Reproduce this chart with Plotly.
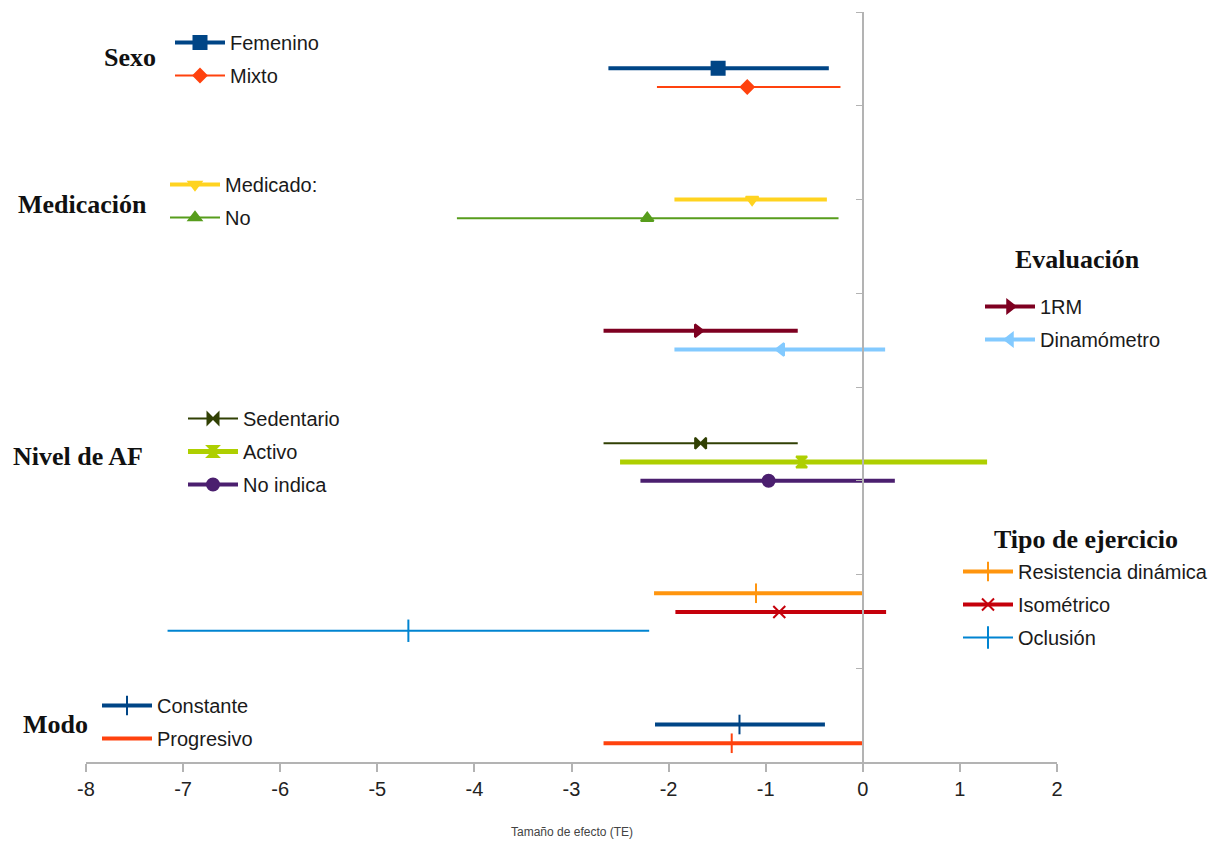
import plotly.graph_objects as go

# ---- data ----
series = ["Femenino", "Mixto", "Medicado:", "No", "1RM", "Dinamómetro",
          "Sedentario", "Activo", "No indica",
          "Resistencia dinámica", "Isométrico", "Oclusión",
          "Constante", "Progresivo"]
groups = ["Sexo", "Sexo", "Medicación", "Medicación", "Evaluación", "Evaluación",
          "Nivel de AF", "Nivel de AF", "Nivel de AF",
          "Tipo de ejercicio", "Tipo de ejercicio", "Tipo de ejercicio",
          "Modo", "Modo"]
effect = [-1.49, -1.19, -1.14, -2.22, -1.70, -0.84, -1.67, -0.63, -0.97,
          -1.10, -0.86, -4.68, -1.27, -1.35]
ci_low = [-2.62, -2.12, -1.94, -4.18, -2.67, -1.94, -2.67, -2.50, -2.29,
          -2.15, -1.93, -7.16, -2.14, -2.67]
ci_high = [-0.35, -0.23, -0.37, -0.25, -0.67, 0.23, -0.67, 1.28, 0.33,
           0.00, 0.24, -2.20, -0.39, 0.00]
row_pos = [7.4, 7.2, 6.0, 5.8, 4.6, 4.4, 3.4, 3.2, 3.0, 1.8, 1.6, 1.4, 0.4, 0.2]
x_ticks = [-8, -7, -6, -5, -4, -3, -2, -1, 0, 1, 2]
x_title = "Tamaño de efecto (TE)"

# ---- styles ----
colors = ["#004586", "#ff420e", "#ffd320", "#579d1c", "#7e0021", "#83caff",
          "#314004", "#aecf00", "#4b1f6f", "#ff950e", "#c5000b", "#0084d1",
          "#004586", "#ff420e"]
widths = [4, 2, 4, 2, 4, 4, 2, 5, 4, 4, 4, 2, 4, 4]
symbols = ["square", "diamond", "triangle-down", "triangle-up", "triangle-right",
           "triangle-left", "bowtie", "hourglass", "circle", "line-ns",
           "x-thin", "line-ns", "line-ns", "line-ns"]
msizes = [13, 10, 11, 11, 11, 11, 11, 11, 12, 14, 12, 16, 14, 14]
legend_marker = [True] * 13 + [False]

legend_ids = {"Sexo": "legend", "Medicación": "legend2", "Evaluación": "legend3",
              "Nivel de AF": "legend4", "Tipo de ejercicio": "legend5", "Modo": "legend6"}

fig = go.Figure()
for i, name in enumerate(series):
    col = colors[i]
    marker = dict(symbol=symbols[i], size=msizes[i], color=col,
                  line=dict(color=col, width=2))
    fig.add_trace(go.Scatter(
        x=[effect[i]], y=[row_pos[i]], name=name,
        mode="lines+markers" if legend_marker[i] else "lines",
        line=dict(color=col, width=widths[i]),
        marker=marker,
        error_x=dict(type="data", symmetric=False,
                     array=[ci_high[i] - effect[i]],
                     arrayminus=[effect[i] - ci_low[i]],
                     color=col, thickness=widths[i], width=0),
        legend=legend_ids[groups[i]], legendgroup=name, showlegend=True,
        hoverinfo="name+x"))
    if not legend_marker[i]:
        fig.add_trace(go.Scatter(
            x=[effect[i]], y=[row_pos[i]], mode="markers", marker=marker,
            showlegend=False, legend=legend_ids[groups[i]], hoverinfo="skip"))

# page has an 8px body margin; the plot area should sit at screen x 86..1057, y 12..762
OFF = 8
W, H = 1219, 841
PL, PT, PW, PH = 86, 12, 971, 750
L, T = PL - OFF, PT - OFF
R = W - L - PW
B = H - T - PH


def px(xs):
    return (xs - PL) / PW


def py(ys):
    return (PT + PH - ys) / PH


legend_font = dict(family="Liberation Sans, Arial, sans-serif", size=20, color="#1a1a1a")
leg_common = dict(font=legend_font, bgcolor="rgba(0,0,0,0)", borderwidth=0,
                  xanchor="left", yanchor="top", tracegroupgap=4, itemwidth=50)
leg_pos = {"legend": (170, 23), "legend2": (165, 165), "legend3": (980, 287),
           "legend4": (183, 399), "legend5": (958, 552), "legend6": (97, 686)}
layout_legends = {k: dict(leg_common, x=px(v[0]), y=py(v[1])) for k, v in leg_pos.items()}

# group headers
headers = [("Sexo", 130, 57), ("Medicación", 82, 205), ("Evaluación", 1077, 259),
           ("Nivel de AF", 78, 457), ("Tipo de ejercicio", 1086, 539), ("Modo", 55, 724)]
annotations = []
for text, hx, hy in headers:
    annotations.append(dict(text=f"<b>{text}</b>", x=px(hx), y=py(hy), xref="paper", yref="paper",
                            xanchor="center", yanchor="middle", showarrow=False,
                            font=dict(family="Liberation Serif, Times New Roman, serif",
                                      size=26, color="#111")))
annotations.append(dict(text=x_title, x=0.5, y=py(832), xref="paper", yref="paper",
                        xanchor="center", yanchor="middle", showarrow=False,
                        font=dict(family="Liberation Sans, Arial, sans-serif", size=12, color="#444")))

fig.update_layout(
    width=W, height=H, margin=dict(l=L, r=R, t=T, b=B),
    paper_bgcolor="white", plot_bgcolor="white",
    annotations=annotations,
    xaxis=dict(range=[-8, 2], tickvals=x_ticks, ticktext=[str(v) for v in x_ticks],
               ticks="outside", ticklen=8,
               tickcolor="#b3b3b3", tickwidth=1.5, showline=True, linecolor="#b3b3b3",
               linewidth=2, showgrid=False, zeroline=False,
               tickfont=dict(family="Liberation Sans, Arial, sans-serif", size=20, color="#222")),
    yaxis=dict(range=[0, 8], dtick=1, anchor="free", position=(0 - (-8)) / 10,
               showline=True, linecolor="#b3b3b3", linewidth=1.5, ticks="outside", ticklen=6,
               tickcolor="#b3b3b3", showticklabels=False, showgrid=False, zeroline=False),
    **layout_legends,
)

fig.write_html("out.html")
